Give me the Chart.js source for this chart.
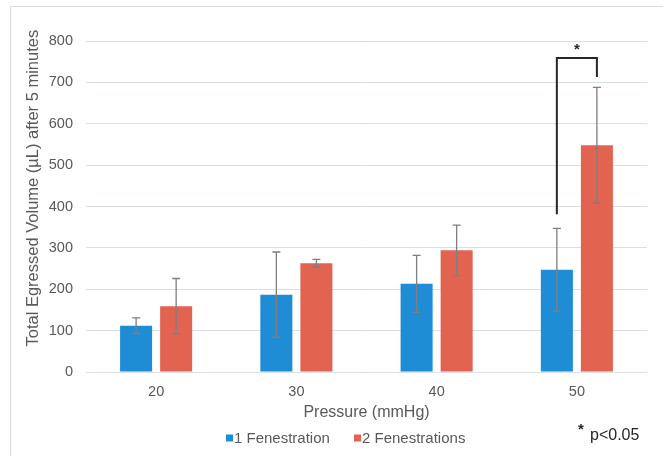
<!DOCTYPE html>
<html>
<head>
<meta charset="utf-8">
<script src="https://cdn.jsdelivr.net/npm/chart.js@4.4.0/dist/chart.umd.min.js"></script>
<style>
  html, body { margin: 0; padding: 0; background: #fff; }
  #volChart { display: block; }
</style>
</head>
<body>
<canvas id="volChart" width="663" height="456"></canvas>
<script>
// -------------------- DATA --------------------
const pressures = ["20", "30", "40", "50"];
const oneFen = [112, 187, 213, 247];
const oneFenErr = [19, 103, 69, 100];
const twoFen = [159, 263, 294, 548];
const twoFenErr = [67, 9, 61, 140];
const seriesLabels = ["1 Fenestration", "2 Fenestrations"];
const yMin = 0, yMax = 800, yStep = 100;

// significance bracket (50 mmHg): y values of the bracket ends
const sigIndex = 3;
const sigLeftFrom = 381;
const sigTop = 759;
const sigRightFrom = 713;
const sigNote = "p<0.05";

const BLUE = "#1f8dd6";
const RED = "#e26350";
const GREY_TEXT = "#595959";
const FONT = "'Liberation Sans', Arial, sans-serif";

// -------------------- PLUGINS --------------------
const framePlugin = {
  id: "frame",
  beforeDraw(chart) {
    const ctx = chart.ctx;
    ctx.save();
    ctx.fillStyle = "#fff";
    ctx.fillRect(0, 0, chart.width, chart.height);
    ctx.strokeStyle = "#d9d9d9";
    ctx.lineWidth = 1;
    ctx.strokeRect(10.5, 6.5, 700, 500);
    ctx.restore();
  }
};

const errorBarPlugin = {
  id: "errorBars",
  afterDatasetsDraw(chart) {
    const ctx = chart.ctx;
    const y = chart.scales.y;
    const errs = [oneFenErr, twoFenErr];
    ctx.save();
    ctx.strokeStyle = "#7f7f7f";
    ctx.lineWidth = 1.3;
    chart.data.datasets.forEach((ds, di) => {
      chart.getDatasetMeta(di).data.forEach((bar, i) => {
        const v = ds.data[i], e = errs[di][i];
        const top = y.getPixelForValue(v + e);
        const bot = y.getPixelForValue(v - e);
        ctx.beginPath();
        ctx.moveTo(bar.x, top); ctx.lineTo(bar.x, bot);
        ctx.moveTo(bar.x - 4, top); ctx.lineTo(bar.x + 4, top);
        ctx.moveTo(bar.x - 4, bot); ctx.lineTo(bar.x + 4, bot);
        ctx.stroke();
      });
    });
    ctx.restore();
  }
};

const annotPlugin = {
  id: "annot",
  afterDraw(chart) {
    const ctx = chart.ctx;
    const y = chart.scales.y;
    const xl = chart.getDatasetMeta(0).data[sigIndex].x;
    const xr = chart.getDatasetMeta(1).data[sigIndex].x;
    const yt = y.getPixelForValue(sigTop);
    ctx.save();
    // bracket
    ctx.strokeStyle = "#262626";
    ctx.lineWidth = 2;
    ctx.beginPath();
    ctx.moveTo(xl, y.getPixelForValue(sigLeftFrom));
    ctx.lineTo(xl, yt);
    ctx.lineTo(xr, yt);
    ctx.lineTo(xr, y.getPixelForValue(sigRightFrom));
    ctx.stroke();
    ctx.fillStyle = "#262626";
    ctx.textAlign = "center";
    ctx.textBaseline = "middle";
    ctx.font = "bold 15px " + FONT;
    ctx.fillText("*", (xl + xr) / 2, yt - 8);

    // p-value note
    ctx.font = "bold 15px " + FONT;
    ctx.fillText("*", 581, 430);
    ctx.font = "16px " + FONT;
    ctx.textAlign = "left";
    ctx.fillText(sigNote, 590, 436);

    // legend
    const colors = [BLUE, RED];
    const starts = [226, 354];
    ctx.font = "15px " + FONT;
    ctx.textAlign = "left";
    seriesLabels.forEach((lab, i) => {
      ctx.fillStyle = colors[i];
      ctx.fillRect(starts[i], 434.5, 7, 7);
      ctx.fillStyle = GREY_TEXT;
      ctx.fillText(lab, starts[i] + 8, 438.5);
    });
    ctx.restore();
  }
};

// -------------------- CHART --------------------
const ctx = document.getElementById("volChart").getContext("2d");
Chart.defaults.font.family = FONT;
Chart.defaults.color = GREY_TEXT;

new Chart(ctx, {
  type: "bar",
  data: {
    labels: pressures,
    datasets: [
      { label: seriesLabels[0], data: oneFen, backgroundColor: BLUE },
      { label: seriesLabels[1], data: twoFen, backgroundColor: RED }
    ]
  },
  options: {
    responsive: false,
    animation: false,
    devicePixelRatio: 1,
    categoryPercentage: 0.571,
    barPercentage: 0.8,
    layout: { padding: { top: 41, bottom: 34, left: 0, right: 16 } },
    plugins: {
      legend: { display: false },
      tooltip: { enabled: false }
    },
    scales: {
      x: {
        grid: { display: false },
        border: { display: false },
        ticks: { font: { size: 14.5 }, color: GREY_TEXT, padding: 3 },
        title: { display: true, text: "Pressure (mmHg)", font: { size: 16 }, color: GREY_TEXT, padding: 0 },
        afterFit: s => { s.height = 50; }
      },
      y: {
        min: yMin,
        max: yMax,
        grid: { color: "#d9dfe8", lineWidth: 1, drawTicks: false },
        border: { display: false },
        ticks: { stepSize: yStep, font: { size: 14.5 }, color: GREY_TEXT, padding: 13 },
        title: {
          display: true,
          text: " ".repeat(8) + "Total Egressed Volume (µL) after 5 minutes",
          font: { size: 16.5 },
          color: GREY_TEXT,
          padding: { top: 24, bottom: 0 }
        },
        afterFit: s => { s.width = 86; }
      }
    }
  },
  plugins: [framePlugin, errorBarPlugin, annotPlugin]
});
</script>
</body>
</html>
